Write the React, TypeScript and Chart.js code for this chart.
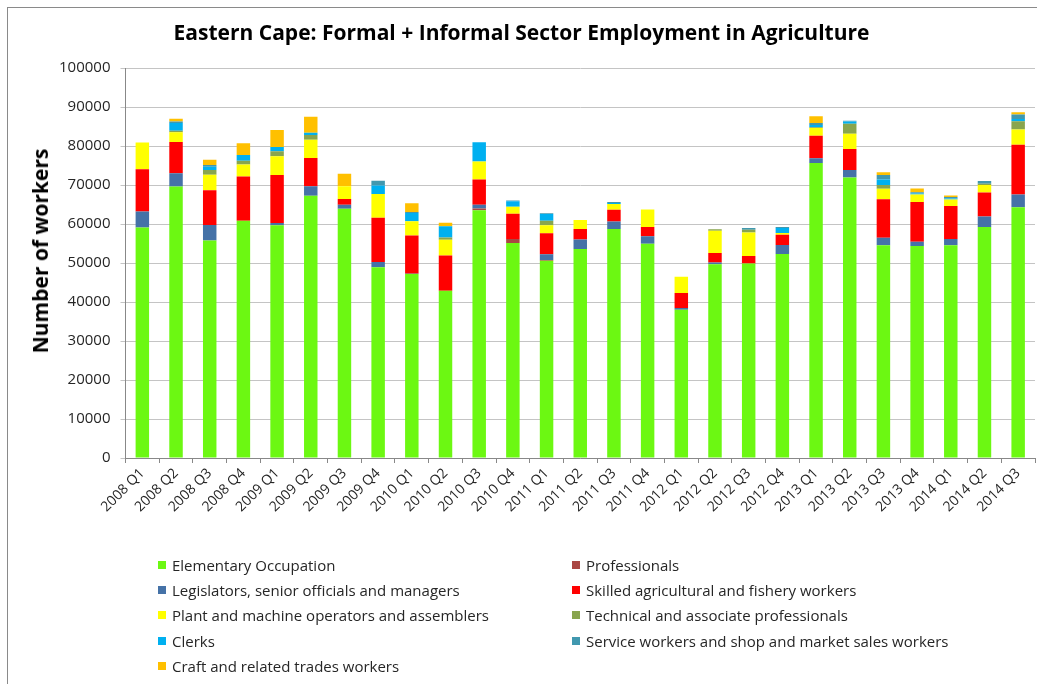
import React, { useEffect, useRef } from "react";
import { Chart, registerables } from "chart.js";

Chart.register(...registerables);

const categories = [
  "2008 Q1", "2008 Q2", "2008 Q3", "2008 Q4",
  "2009 Q1", "2009 Q2", "2009 Q3", "2009 Q4",
  "2010 Q1", "2010 Q2", "2010 Q3", "2010 Q4",
  "2011 Q1", "2011 Q2", "2011 Q3", "2011 Q4",
  "2012 Q1", "2012 Q2", "2012 Q3", "2012 Q4",
  "2013 Q1", "2013 Q2", "2013 Q3", "2013 Q4",
  "2014 Q1", "2014 Q2", "2014 Q3",
];

const elementary = [59100, 69600, 55800, 60850, 59650, 67250, 63900, 48900, 47200, 42900, 63500, 55100, 50550, 53600, 58700, 54950, 38000, 49650, 49900, 52300, 75650, 71950, 54550, 54350, 54550, 59250, 64300];
const professionals = [0, 0, 0, 0, 0, 0, 0, 0, 200, 0, 450, 1050, 250, 0, 0, 0, 0, 0, 0, 0, 0, 0, 0, 0, 0, 0, 0];
const legislators = [4100, 3400, 3950, 0, 600, 2400, 1050, 1350, 0, 0, 1000, 0, 1450, 2400, 1950, 1900, 450, 500, 0, 2300, 1200, 1900, 1950, 1100, 1600, 2700, 3250];
const skilled = [10850, 8000, 8900, 11300, 12300, 7250, 1450, 11350, 9650, 9050, 6450, 6500, 5350, 2700, 3000, 2400, 3850, 2400, 1900, 2650, 5800, 5400, 9850, 10200, 8450, 6150, 12800];
const plantOperators = [6850, 2550, 4000, 3100, 4800, 4700, 3250, 6100, 3650, 4000, 4600, 1800, 2050, 2300, 1450, 4450, 4200, 5750, 6050, 450, 1950, 3900, 2700, 1900, 1700, 1900, 3850];
const technical = [0, 350, 1200, 1000, 1300, 1200, 0, 0, 0, 600, 0, 0, 1200, 0, 0, 0, 0, 350, 700, 0, 200, 2550, 950, 0, 0, 300, 2150];
const clerks = [0, 2000, 800, 1450, 1100, 600, 0, 2150, 2150, 2850, 4950, 1400, 1700, 0, 300, 0, 0, 0, 0, 1250, 600, 600, 1400, 300, 250, 0, 600];
const serviceWorkers = [0, 400, 500, 0, 0, 0, 0, 1250, 200, 0, 0, 200, 200, 0, 250, 0, 0, 0, 400, 250, 500, 200, 1150, 300, 400, 700, 1100];
const craft = [0, 700, 1350, 3000, 4350, 4100, 3250, 0, 2300, 900, 0, 0, 0, 0, 0, 0, 0, 0, 0, 0, 1700, 0, 700, 950, 350, 0, 600];

const seriesNames = [
  "Elementary Occupation",
  "Professionals",
  "Legislators, senior officials and managers",
  "Skilled agricultural and fishery workers",
  "Plant and machine operators and assemblers",
  "Technical and associate professionals",
  "Clerks",
  "Service workers and shop and market sales workers",
  "Craft and related trades workers",
];
const seriesValues = [elementary, professionals, legislators, skilled, plantOperators, technical, clerks, serviceWorkers, craft];
const seriesColors = ["#6CF812", "#AA4643", "#4572A7", "#FF0000", "#FFFF00", "#89A54E", "#00B0F0", "#4198AF", "#FFC000"];

const chartTitle = "Eastern Cape: Formal + Informal Sector Employment in Agriculture";
const yAxisTitle = "Number of workers";
const yMin = 0;
const yMax = 100000;
const yStep = 10000;

const FONT = "'Open Sans', 'DejaVu Sans', sans-serif";
const W = 1037;
const H = 684;

export default function App() {
  const canvasRef = useRef<HTMLCanvasElement | null>(null);

  useEffect(() => {
    document.body.style.margin = "0";
    const canvas = canvasRef.current;
    if (!canvas) return;
    const chart = new Chart(canvas, {
      type: "bar",
      data: {
        labels: categories,
        datasets: seriesNames.map((name, i) => ({
          label: name,
          data: seriesValues[i],
          backgroundColor: seriesColors[i],
          borderWidth: 0,
          categoryPercentage: 1,
          barPercentage: 0.4,
        })),
      },
      options: {
        responsive: false,
        animation: false,
        layout: { padding: { left: 8, right: 2, top: 0, bottom: 166 } },
        plugins: {
          legend: { display: false },
          tooltip: { enabled: false },
          title: {
            display: true,
            text: chartTitle,
            color: "#000000",
            font: { family: FONT, size: 21, weight: "bold" },
            padding: { top: 21, bottom: 21.8 },
          },
        },
        scales: {
          x: {
            stacked: true,
            grid: {
              display: true,
              drawOnChartArea: false,
              drawTicks: true,
              tickLength: 5,
              offset: true,
              color: "#888888",
            },
            border: { display: true, color: "#888888", width: 1 },
            ticks: {
              autoSkip: false,
              minRotation: 45,
              maxRotation: 45,
              padding: 2,
              color: "#262626",
              font: { family: FONT, size: 14 },
            },
            afterFit: (scale: any) => {
              scale.height = 60;
            },
          },
          y: {
            stacked: true,
            min: yMin,
            max: yMax,
            grid: {
              color: "#c4c4c4",
              lineWidth: 1,
              tickLength: 5,
              drawTicks: true,
            },
            border: { display: true, color: "#888888", width: 1 },
            ticks: {
              stepSize: yStep,
              padding: 10,
              color: "#262626",
              font: { family: FONT, size: 15 },
              callback: (v: any) => String(v),
            },
            title: { display: false },
            afterFit: (scale: any) => {
              scale.width = 117.5;
            },
          },
        },
      },
    });
    return () => chart.destroy();
  }, []);

  return (
    <div style={{ position: "absolute", left: 0, top: 0, width: W, height: H, overflow: "hidden", background: "#ffffff" }}>
      <div
        style={{
          position: "absolute",
          left: 7,
          top: 7,
          width: W + 20,
          height: H + 20,
          borderLeft: "1px solid #8a8a8a",
          borderTop: "1px solid #8a8a8a",
          boxSizing: "border-box",
        }}
      />
      <canvas ref={canvasRef} width={W} height={H} style={{ position: "absolute", left: 0, top: 0, width: W, height: H }} />
      <div
        style={{
          position: "absolute",
          left: 40,
          top: 251,
          transform: "translate(-50%, -50%) rotate(-90deg)",
          fontFamily: FONT,
          fontSize: 21,
          fontWeight: "bold",
          color: "#000000",
          whiteSpace: "nowrap",
          lineHeight: "26px",
        }}
      >
        {yAxisTitle}
      </div>
      {seriesNames.map((name, i) => {
        const row = Math.floor(i / 2);
        const col = i % 2;
        const left = col === 0 ? 158 : 572;
        const cy = 564.5 + row * 25.4;
        return (
          <div key={name} style={{ position: "absolute", left, top: cy - 10, height: 20, display: "flex", alignItems: "center", whiteSpace: "nowrap" }}>
            <span style={{ display: "inline-block", width: 8, height: 8, background: seriesColors[i], marginRight: 6 }} />
            <span style={{ fontFamily: FONT, fontSize: 15, color: "#262626", lineHeight: "20px" }}>{name}</span>
          </div>
        );
      })}
    </div>
  );
}
